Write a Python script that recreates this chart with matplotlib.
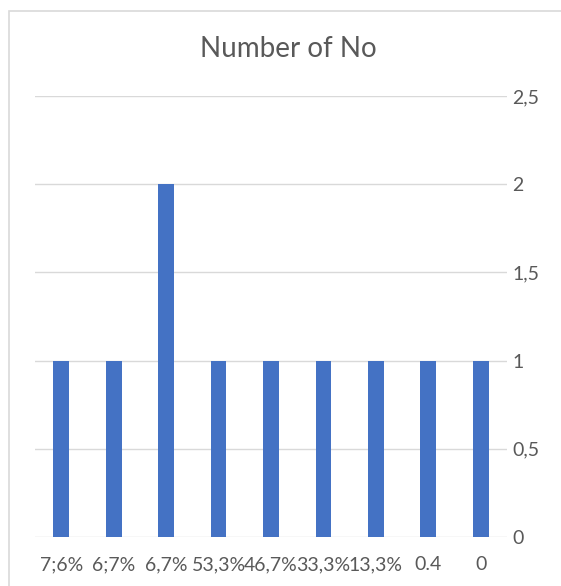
import numpy as np
import matplotlib
matplotlib.use("Agg")
from matplotlib import pyplot as plt
from matplotlib.patches import Rectangle

# data
categories = ["7;6%", "6;7%", "6,7%", "53,3%", "46,7%", "33,3%", "13,3%", "0.4", "0"]
values = [1, 1, 2, 1, 1, 1, 1, 1, 1]
ytick_vals = [0, 0.5, 1, 1.5, 2, 2.5]
ytick_labels = ["0", "0,5", "1", "1,5", "2", "2,5"]

plt.rcParams['font.family'] = ['Lato', 'DejaVu Sans']
txt = "#595959"

fig = plt.figure(figsize=(5.61, 5.86), dpi=100)
fig.patch.set_facecolor("white")

# chart border (cut off at right and bottom like the screenshot)
fig.patches.append(Rectangle((9 / 561, -0.1), 1.0, 1 - 11 / 586 + 0.1,
                             transform=fig.transFigure, fill=False,
                             edgecolor="#d9d9d9", linewidth=1.2))

ax = fig.add_axes([35 / 561, 49 / 586, 472 / 561, 441 / 586])
x = np.arange(len(categories))
ax.bar(x, values, width=0.3, color="#4472C4", zorder=3)

ax.set_xlim(-0.5, len(categories) - 0.5)
ax.set_ylim(0, 2.5)
ax.set_yticks(ytick_vals)
ax.set_yticklabels(ytick_labels)
ax.yaxis.tick_right()
ax.set_xticks(x)
ax.set_xticklabels(categories)
ax.tick_params(axis="both", length=0, labelsize=14, colors=txt)
ax.tick_params(axis="y", pad=4)
ax.tick_params(axis="x", pad=14)
ax.grid(axis="y", color="#d9d9d9", linewidth=1, zorder=0)
for s in ax.spines.values():
    s.set_visible(False)

fig.text(288 / 561, 1 - 49 / 586, "Number of No", ha="center", va="center",
         fontsize=20, color=txt)

fig.savefig("out.png", dpi=100)
